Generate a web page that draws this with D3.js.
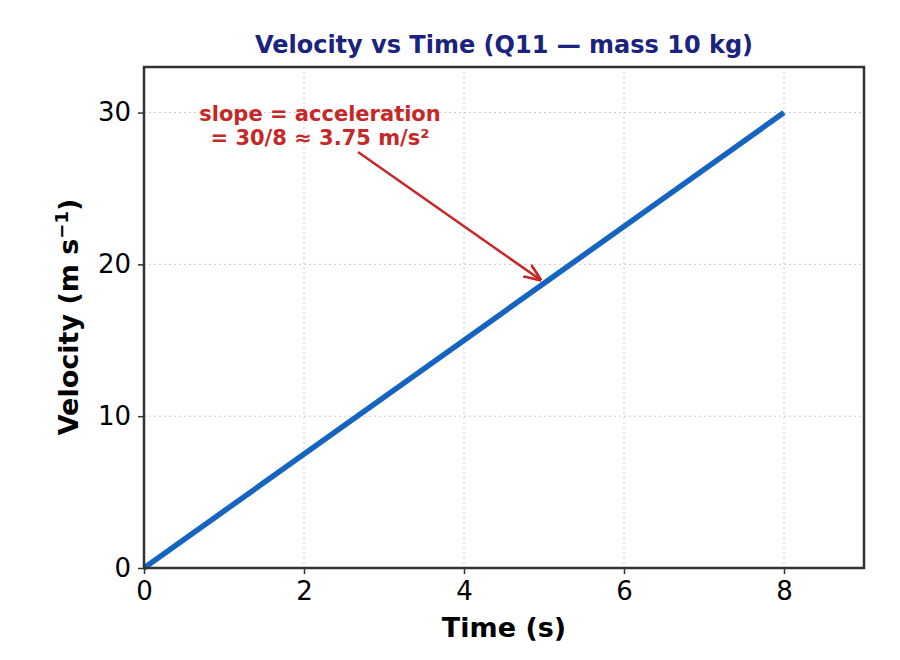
<!DOCTYPE html>
<html><head><meta charset="utf-8">
<script src="https://cdn.jsdelivr.net/npm/d3@7"></script>
<style>body{margin:0;background:#fff}</style>
</head><body><svg id="chart" width="900" height="660"></svg>
<script>
// data
var times = [0, 8];
var velocities = [0, 30];
var xTicks = [0, 2, 4, 6, 8];
var yTicks = [0, 10, 20, 30];
var annotText = ["slope = acceleration", "= 30/8 \u2248 3.75 m/s\u00b2"];
var annotAt = [2.2, 29.1];
var arrowTo = [4.95, 19.0];

var svg = d3.select("#chart");
var m = {l:144, r:864, t:67, b:568};
var x = d3.scaleLinear().domain([0, 9]).range([m.l, m.r]);
var y = d3.scaleLinear().domain([0, 33]).range([m.b, m.t]);
var font = "DejaVu Sans, sans-serif";

// grid
svg.append("g").selectAll("line").data(xTicks).join("line")
  .attr("x1", d => x(d)).attr("x2", d => x(d)).attr("y1", m.t).attr("y2", m.b)
  .attr("stroke", "#ccc").attr("stroke-dasharray", "2,3");
svg.append("g").selectAll("line").data(yTicks).join("line")
  .attr("y1", d => y(d)).attr("y2", d => y(d)).attr("x1", m.l).attr("x2", m.r)
  .attr("stroke", "#ccc").attr("stroke-dasharray", "2,3");

// axes
var xa = svg.append("g").attr("transform", "translate(0," + m.b + ")")
  .call(d3.axisBottom(x).tickValues(xTicks).tickSize(6).tickPadding(8));
var ya = svg.append("g").attr("transform", "translate(" + m.l + ",0)")
  .call(d3.axisLeft(y).tickValues(yTicks).tickSize(6).tickPadding(7));
[xa, ya].forEach(a => {
  a.select(".domain").remove();
  a.selectAll("text").attr("font-family", font).attr("font-size", 26).attr("fill", "#000");
  a.selectAll("line").attr("stroke", "#333").attr("stroke-width", 1.5);
});

// line
svg.append("path").datum(times.map((t, i) => [t, velocities[i]]))
  .attr("d", d3.line().x(d => x(d[0])).y(d => y(d[1])))
  .attr("fill", "none").attr("stroke", "#1565c0").attr("stroke-width", 5.5);

// frame
svg.append("rect").attr("x", m.l).attr("y", m.t).attr("width", m.r - m.l).attr("height", m.b - m.t)
  .attr("fill", "none").attr("stroke", "#333").attr("stroke-width", 2.5);

// annotation
svg.append("defs").append("marker").attr("id", "ah").attr("viewBox", "0 0 10 10")
  .attr("refX", 9).attr("refY", 5).attr("markerWidth", 7).attr("markerHeight", 7).attr("orient", "auto")
  .append("path").attr("d", "M0,1 L10,5 L0,9").attr("fill", "none").attr("stroke", "#c62828").attr("stroke-width", 1.6);
svg.append("line").attr("x1", 358).attr("y1", 152)
  .attr("x2", x(arrowTo[0])).attr("y2", y(arrowTo[1]))
  .attr("stroke", "#c62828").attr("stroke-width", 2.5).attr("marker-end", "url(#ah)");
svg.append("g").selectAll("text").data(annotText).join("text")
  .attr("x", x(annotAt[0])).attr("y", (d, i) => y(annotAt[1]) - 5 + i * 24)
  .attr("text-anchor", "middle").attr("font-family", font).attr("font-weight", "bold")
  .attr("font-size", 21).attr("fill", "#c62828").text(d => d);

// titles
svg.append("text").attr("x", (m.l + m.r) / 2).attr("y", 53).attr("text-anchor", "middle")
  .attr("font-family", font).attr("font-weight", "bold").attr("font-size", 24).attr("fill", "#1a237e")
  .text("Velocity vs Time (Q11 \u2014 mass 10 kg)");
svg.append("text").attr("x", (m.l + m.r) / 2).attr("y", 637).attr("text-anchor", "middle")
  .attr("font-family", font).attr("font-weight", "bold").attr("font-size", 27).text("Time (s)");
var yl = svg.append("text").attr("transform", "translate(78,317) rotate(-90)").attr("text-anchor", "middle")
  .attr("font-family", font).attr("font-weight", "bold").attr("font-size", 27);
yl.append("tspan").text("Velocity (m s");
yl.append("tspan").attr("dy", -10).attr("font-size", 18).text("\u22121");
yl.append("tspan").attr("dy", 10).text(")");
</script></body></html>
